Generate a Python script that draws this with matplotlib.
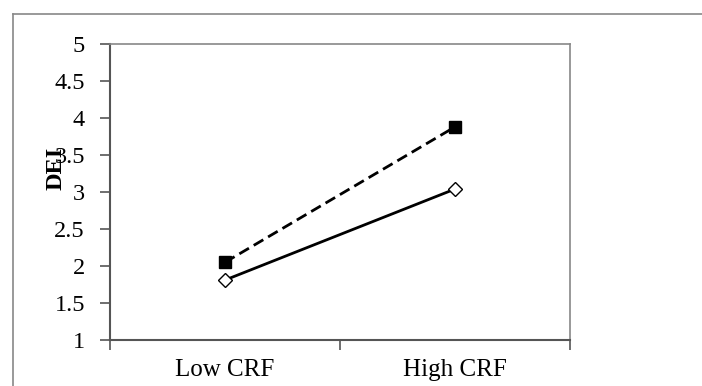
import matplotlib
matplotlib.use("Agg")
import matplotlib.pyplot as plt
from matplotlib.lines import Line2D

categories = ["Low CRF", "High CRF"]
dashed_series = [2.05, 3.88]   # filled squares
solid_series = [1.81, 3.04]    # open diamonds
yticks = [1, 1.5, 2, 2.5, 3, 3.5, 4, 4.5, 5]
ytick_labels = ["1", "1.5", "2", "2.5", "3", "3.5", "4", "4.5", "5"]

plt.rcParams["font.family"] = ["Liberation Serif", "DejaVu Serif"]

fig = plt.figure(figsize=(7.02, 3.86), dpi=100)
W, H = 702, 386
ax = fig.add_axes([110 / W, 1 - 340 / H, 460 / W, 296 / H])

x = [0, 1]
ax.plot(x, dashed_series, color="black", lw=2, ls=(0, (4, 2)), marker="s",
        ms=9, mfc="black", mec="black", zorder=3)
ax.plot(x, solid_series, color="black", lw=2, ls="-", marker="D",
        ms=7.5, mfc="white", mec="black", mew=1, zorder=3)

ax.set_xlim(-0.5, 1.5)
ax.set_ylim(1, 5)
ax.set_yticks(yticks)
ax.set_yticklabels(ytick_labels, fontsize=17.5)
ax.set_xticks([-0.5, 0.5, 1.5])
ax.set_xticklabels([])
ax.set_xticks(x, minor=True)
ax.set_xticklabels(categories, minor=True, fontsize=18)
ax.tick_params(axis="x", which="minor", length=0, pad=14)
ax.tick_params(axis="x", which="major", direction="out", length=7, color="#555555", width=1.2)
ax.tick_params(axis="y", direction="out", length=7, color="#555555", width=1.2, pad=11)

for side in ("left", "bottom"):
    ax.spines[side].set_color("#555555")
    ax.spines[side].set_linewidth(1.5)
for side in ("top", "right"):
    ax.spines[side].set_color("#888888")
    ax.spines[side].set_linewidth(1.2)

fig.text(56 / W, 1 - 168 / H, "DEI", rotation=90, fontsize=17.5, fontweight="bold",
         ha="center", va="center")

# outer chart frame
fig.add_artist(Line2D([13 / W, 1.0], [1 - 14 / H, 1 - 14 / H], color="#888888", lw=1.2))
fig.add_artist(Line2D([13 / W, 13 / W], [0.0, 1 - 14 / H], color="#888888", lw=1.2))

fig.savefig("out.png", dpi=100)
